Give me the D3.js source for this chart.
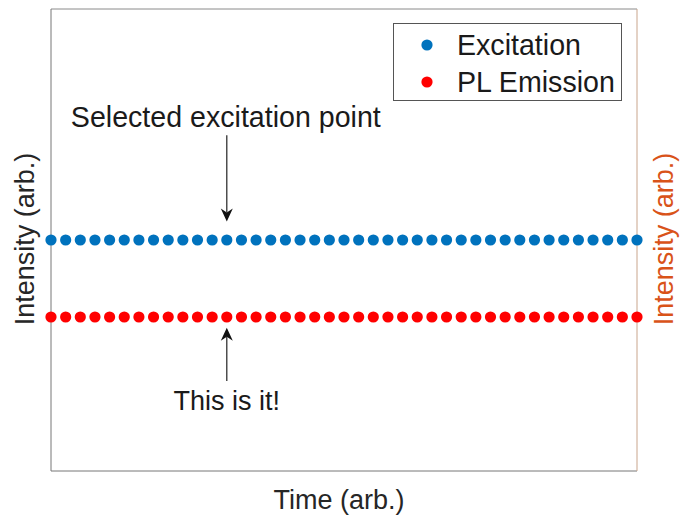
<!DOCTYPE html>
<html><head><meta charset="utf-8">
<script src="https://cdn.jsdelivr.net/npm/d3@7"></script>
<style>
html,body{margin:0;padding:0;background:#fff;}
text{font-family:"Liberation Sans",Arial,Helvetica,sans-serif;}
</style></head>
<body><svg id="c" width="684" height="520"></svg>
<script>
// ---- data ----
const timeIdx = d3.range(0, 41);          // 41 sample points
const excitation = timeIdx.map(() => 1.5);
const emission = timeIdx.map(() => 1.0);
const seriesNames = ["Excitation", "PL Emission"];
const seriesColors = ["#0072BD", "#FF0000"];
const xLabel = "Time (arb.)";
const yLabel = "Intensity (arb.)";
const yLabelRight = "Intensity (arb.)";
const selectedIdx = 12;
const annotTop = {text: "Selected excitation point", textY: 2.234, from: 2.18, to: 1.62};
const annotBottom = {text: "This is it!", textY: 0.396, from: 0.584, to: 0.93};

// ---- layout ----
const svg = d3.select("#c");
const L = 51, R = 637, T = 9, B = 471;
const x = d3.scaleLinear().domain([0, 40]).range([L, R]);
const y = d3.scaleLinear().domain([0, 3]).range([B, T]);
const FS = 27, FS2 = 28.6;

// box
svg.append("line").attr("x1", L).attr("x2", R).attr("y1", T).attr("y2", T).attr("stroke", "#8a8a8a");
svg.append("line").attr("x1", L).attr("x2", R).attr("y1", B).attr("y2", B).attr("stroke", "#777");
svg.append("line").attr("x1", L).attr("x2", L).attr("y1", T).attr("y2", B).attr("stroke", "#777");
svg.append("line").attr("x1", R).attr("x2", R).attr("y1", T).attr("y2", B).attr("stroke", "#c9a58c");

// series
[excitation, emission].forEach((vals, si) => {
  svg.append("g").selectAll("circle").data(vals).join("circle")
    .attr("cx", (d, i) => x(timeIdx[i])).attr("cy", d => y(d))
    .attr("r", 5.6).attr("fill", seriesColors[si]);
});

// arrows
function arrow(x0, y0, y1) {
  const dir = Math.sign(y1 - y0);
  const hl = 13, hw = 6, back = 4;
  svg.append("line").attr("x1", x0).attr("x2", x0).attr("y1", y0).attr("y2", y1 - dir * (hl - back))
    .attr("stroke", "#222").attr("stroke-width", 1.2);
  const p = [[x0, y1], [x0 - hw, y1 - dir * hl], [x0, y1 - dir * (hl - back)], [x0 + hw, y1 - dir * hl]];
  svg.append("path").attr("d", "M" + p.map(q => q.join(",")).join("L") + "Z").attr("fill", "#111");
}
arrow(x(selectedIdx), y(annotTop.from), y(annotTop.to));
arrow(x(selectedIdx), y(annotBottom.from), y(annotBottom.to));

svg.append("text").attr("x", x(selectedIdx) - 1).attr("y", y(annotTop.textY)).attr("text-anchor", "middle")
  .attr("font-size", FS2).attr("fill", "#1a1a1a").text(annotTop.text);
svg.append("text").attr("x", x(selectedIdx)).attr("y", y(annotBottom.textY)).attr("text-anchor", "middle")
  .attr("font-size", FS).attr("fill", "#1a1a1a").text(annotBottom.text);

// axis labels
svg.append("text").attr("x", 339).attr("y", 509).attr("text-anchor", "middle")
  .attr("font-size", FS).attr("fill", "#262626").text(xLabel);
svg.append("text").attr("transform", "translate(34,239) rotate(-90)").attr("text-anchor", "middle")
  .attr("font-size", FS).attr("fill", "#262626").text(yLabel);
svg.append("text").attr("transform", "translate(673,239) rotate(-90)").attr("text-anchor", "middle")
  .attr("font-size", FS).attr("fill", "#D95319").text(yLabelRight);

// legend
const lg = svg.append("g");
lg.append("rect").attr("x", 393.5).attr("y", 23.5).attr("width", 228).attr("height", 77)
  .attr("fill", "#fff").attr("stroke", "#555");
seriesNames.forEach((n, i) => {
  const cy = 45 + i * 37;
  lg.append("circle").attr("cx", 427).attr("cy", cy).attr("r", 5.6).attr("fill", seriesColors[i]);
  lg.append("text").attr("x", 457).attr("y", cy + 10).attr("font-size", FS2).attr("fill", "#1a1a1a").text(n);
});
</script></body></html>
